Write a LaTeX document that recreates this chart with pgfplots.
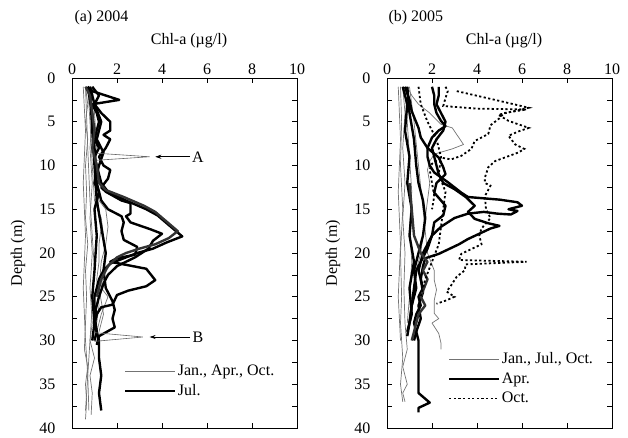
\documentclass[border=0pt]{standalone}
\usepackage{fontspec}
\setmainfont{Liberation Serif}
\usepackage{pgfplots}
\pgfplotsset{compat=1.18}
\usetikzlibrary{arrows.meta}

\tikzset{
  gline/.style={color=black!55, line width=0.7bp, line join=round},
  bline/.style={color=black, line width=2.4bp, line join=round},
  dline/.style={color=black, line width=1.8bp, dash pattern=on 2.2bp off 2.4bp},
  leader/.style={color=black!60, line width=0.6bp},
}

\pgfplotsset{
  profile axis/.style={
    scale only axis, width=225bp, height=350bp,
    xmin=0, xmax=10, ymin=0, ymax=40, y dir=reverse,
    xtick={0,2,...,10}, ytick={0,5,...,40},
    minor ytick={2.5,7.5,...,37.5},
    major tick length=5bp, minor tick length=5bp,
    tick style={black, line width=0.6bp},
    axis line style={line width=0.8bp},
    xticklabel pos=right,
    /pgf/number format/assume math mode=true,
    ticklabel style={font=\fontsize{16bp}{19bp}\selectfont},
    yticklabel style={xshift=-13bp},
    label style={font=\fontsize{16bp}{19bp}\selectfont},
    xlabel={Chl-a (µg/l)},
    xlabel style={at={(axis description cs:0.52,1.108)}, anchor=center},
    ylabel={Depth (m)},
    ylabel style={at={(axis description cs:-0.24,0.5)}, anchor=center},
    legend image code/.code={\draw[##1] (0bp,0bp) -- (50bp,0bp);},
    legend cell align=left,
    legend style={draw=none, fill=none, inner sep=0bp, row sep=4.5bp,
      font=\fontsize{16bp}{19bp}\selectfont,
      nodes={inner sep=1.5bp}},
  },
}

\begin{document}
\begin{tikzpicture}
\path[use as bounding box] (0bp,0bp) rectangle (628bp,-438bp);
\node[anchor=west, font=\fontsize{16bp}{19bp}\selectfont] at (71bp,-18bp) {(a) 2004};
\node[anchor=west, font=\fontsize{16bp}{19bp}\selectfont] at (385bp,-18bp) {(b) 2005};

% ---------------- 2004 ----------------
\begin{axis}[profile axis, at={(72bp,-78bp)}, anchor=north west,
  legend style={at={(axis cs:2.3,32.6)}, anchor=north west}]
% Jan., Apr., Oct.
\addplot[gline] coordinates {(0.6,1) (0.7,3) (0.6,5) (0.7,7) (0.6,10) (0.65,13) (0.6,16) (0.7,19) (0.6,22) (0.65,25) (0.6,28) (0.55,31) (0.7,33) (0.6,35) (0.65,37) (0.6,39)};
\addlegendentry{Jan., Apr., Oct.}
\addplot[gline, forget plot] coordinates {(0.8,1) (0.9,4) (0.8,8) (0.9,12) (0.8,16) (0.9,20) (0.8,24) (0.9,28) (0.8,30) (1.0,32) (0.8,34) (0.9,36) (0.85,38.5)};
\addplot[gline, forget plot] coordinates {(0.7,1) (0.8,5) (0.9,10) (1.0,14) (1.3,16) (1.4,18) (1.5,20) (1.4,22) (1.3,24) (1.6,25) (1.3,27) (1.1,29) (1.0,30)};
\addplot[gline, forget plot] coordinates {(0.7,1) (0.9,6) (1.0,10) (1.1,13) (1.2,15) (1.3,17) (1.2,19) (1.2,21) (1.1,23) (1.2,26) (1.1,28) (1.0,29.8)};
\addplot[gline, forget plot] coordinates {(0.6,1) (0.7,8) (0.8,14) (0.9,18) (1.0,22) (0.9,26) (0.8,30) (0.7,34) (0.75,38)};
\addplot[gline, forget plot] coordinates {(0.9,1) (1.0,4) (1.1,8) (1.0,12) (1.2,14) (1.5,15) (1.6,17) (1.5,19) (1.3,21) (1.2,24) (1.4,27) (1.2,29)};
\addplot[gline, forget plot] coordinates {(0.5,1) (0.6,6) (0.5,12) (0.6,18) (0.5,24) (0.6,30) (0.7,34) (0.6,38)};
% Jul.
\addplot[bline] coordinates {(0.7,1) (0.9,1.5) (2.1,2.5) (0.9,3) (1.1,4) (1.2,5) (1.1,6) (1.0,7) (1.2,8) (1.0,9) (1.1,10) (1.2,11) (1.3,12) (1.6,13) (2.4,14) (3.3,15) (3.8,15.7) (4.3,16.8) (4.9,18.1) (4.2,18.8) (3.6,19.5) (2.9,20) (2.2,20.7) (1.7,21.2) (1.4,22) (1.2,23) (1.1,24) (1.0,25) (1.0,26) (1.1,27) (1.0,28) (1.1,29) (1.2,30) (1.2,32) (1.3,34) (1.2,36) (1.3,38)};
\addlegendentry{Jul.}
\addplot[bline, forget plot] coordinates {(0.8,1) (1.0,3) (1.3,4) (1.7,5) (1.7,6) (1.4,6.5) (1.7,7) (1.5,8) (1.2,9) (1.4,10) (1.7,10.5) (1.6,11.5) (1.3,12.5) (1.5,13) (2.2,14) (2.6,14.3) (2.6,15.5) (2.4,15.8) (2.6,16.5) (3.5,17.3) (4.0,17.8) (3.6,18.6) (3.4,19.5) (2.8,20.5) (2.0,21.5) (1.6,22.5) (1.4,23.5) (1.2,25) (1.0,27) (1.1,29) (1.0,30)};
\addplot[bline, forget plot] coordinates {(0.7,1) (0.9,4) (1.0,8) (1.1,12) (1.3,14) (1.6,15) (2.2,15.8) (2.3,16.5) (2.2,17.5) (2.3,18.5) (2.9,19.3) (2.8,20.2) (2.0,20.6) (1.7,21) (2.5,21.4) (3.3,21.8) (3.7,23.1) (3.3,23.8) (2.5,24.3) (2.0,24.8) (1.8,25.9) (1.3,26.2) (1.1,27) (1.0,28)};
\addplot[bline, forget plot] coordinates {(0.8,1) (0.9,6) (1.0,10) (1.1,14) (1.3,17) (1.5,20) (1.4,22) (1.5,24) (1.8,25.5) (1.9,26.5) (1.8,27.5) (1.9,28.5) (1.2,29.5) (1.1,30.5)};
\addplot[bline, forget plot] coordinates {(0.9,1) (1.2,2) (1.0,3) (1.3,5) (1.1,7) (1.4,8.5) (1.2,10) (1.0,12) (1.2,13) (1.0,15) (1.1,18) (1.0,22) (0.9,25) (1.0,28) (0.9,30)};
\addplot[bline, color=black!80, forget plot] coordinates {(0.6,1) (0.8,2) (0.9,4) (1.0,6) (0.9,8) (1.1,10) (1.2,12) (1.5,12.8) (2.3,13.6) (3.2,14.6) (3.7,15.3) (4.2,16.4) (4.7,17.5) (4.3,18.3) (3.7,19) (3.0,19.5) (2.4,20) (2.0,20.5) (1.6,21.5) (1.3,23) (1.1,25)};
% leaders
\draw[leader] (axis cs:1.1,8.6) -- (axis cs:3.45,9.0) -- (axis cs:1.1,9.4);
\draw[-{Stealth[length=6bp,width=4bp]}, line width=0.6bp] (axis cs:5.25,9.0) -- (axis cs:3.7,9.0);
\node[font=\fontsize{16bp}{19bp}\selectfont] at (axis cs:5.6,9.0) {A};
\draw[leader] (axis cs:1.0,29.1) -- (axis cs:3.15,29.6) -- (axis cs:1.0,30.1);
\draw[-{Stealth[length=6bp,width=4bp]}, line width=0.6bp] (axis cs:5.25,29.6) -- (axis cs:3.45,29.6);
\node[font=\fontsize{16bp}{19bp}\selectfont] at (axis cs:5.6,29.6) {B};
\end{axis}

% ---------------- 2005 ----------------
\begin{axis}[profile axis, at={(387bp,-78bp)}, anchor=north west,
  legend style={at={(axis cs:2.7,31.2)}, anchor=north west}]
% Jan., Jul., Oct.
\addplot[gline] coordinates {(0.9,1) (1.1,2) (1.4,3) (1.9,4) (2.4,5.3) (2.9,5.7) (3.4,7.6) (2.9,8.1) (2.1,8.7) (1.9,9.5) (1.8,10.5) (1.9,12) (1.8,14) (1.7,16) (1.6,18) (1.5,20) (1.3,22) (1.2,25)};
\addlegendentry{Jan., Jul., Oct.}
\addplot[gline, forget plot] coordinates {(1.0,1) (1.2,5) (1.4,10) (1.6,15) (1.8,20) (2.1,22) (2.1,23.1) (2.2,24.2) (2.1,25.4) (2.1,26.9) (2.3,27.5) (2.0,28) (2.3,29.2) (2.4,30.3) (2.4,31)};
\addplot[gline, forget plot] coordinates {(0.6,1) (0.65,5) (0.6,10) (0.7,15) (0.6,20) (0.65,25) (0.6,28) (0.7,32) (0.6,35) (0.7,37)};
\addplot[gline, forget plot] coordinates {(0.7,1) (0.8,4) (0.7,8) (0.8,12) (0.7,16) (0.8,20) (0.75,24) (0.8,28) (0.9,31) (0.7,33) (0.9,35) (0.7,36) (0.8,37)};
\addplot[gline, forget plot] coordinates {(0.8,1) (0.9,5) (1.0,9) (1.1,13) (1.0,17) (1.1,21) (1.0,25) (0.9,28)};
\addplot[gline, forget plot] coordinates {(0.5,1) (0.6,7) (0.5,13) (0.6,19) (0.5,25) (0.6,30)};
% Apr.
\addplot[bline] coordinates {(2.0,1) (2.1,2) (2.1,3) (2.2,4) (2.4,4.9) (2.6,5.5) (2.3,6) (2.0,6.8) (1.8,8) (1.8,9) (1.9,10) (2.1,10.8) (2.7,11.9) (3.3,13.1) (3.6,13.6) (5.0,13.9) (5.8,14.2) (6.0,14.6) (5.4,15.0) (5.8,15.2) (5.5,15.6) (4.9,15.5) (4.3,15.3) (3.6,15.5) (3.0,16) (2.4,17) (2.0,18) (1.8,19) (1.6,20) (1.5,21) (1.4,22) (1.5,23) (1.6,24) (1.4,25) (1.5,26) (1.3,27) (1.2,28) (1.3,29) (1.2,30)};
\addlegendentry{Apr.}
\addplot[bline, forget plot] coordinates {(2.3,1) (2.3,2) (2.2,3) (2.4,4) (2.6,5) (2.5,6) (2.2,7) (2.0,8) (2.1,9) (2.2,10) (2.3,11) (2.5,12) (3.0,12.7) (3.5,13.6) (3.9,14.6) (3.6,15.3) (3.9,16.1) (4.5,16.6) (5.0,16.9) (4.6,17.2) (4.1,17.8) (3.6,18.4) (3.2,19) (2.3,20.1) (1.7,20.6) (1.6,21.5) (1.5,23) (1.6,24.5) (1.4,26) (1.5,27.5) (1.3,29) (1.4,30) (1.4,32) (1.4,34) (1.4,36) (1.9,37.1) (1.4,37.7) (1.4,38.2)};
\addplot[bline, forget plot] coordinates {(0.8,1) (1.0,2.5) (1.1,3.8) (1.4,5.7) (1.5,6.8) (1.8,8) (2.3,9.1) (2.5,10.2) (2.6,11) (2.2,12) (2.1,13.1) (2.6,14.6) (2.5,15.7) (2.1,16.5) (2.0,18) (1.8,19.5) (1.5,21) (1.3,22) (1.2,24) (1.1,26) (1.0,28) (0.9,29.5)};
\addplot[bline, forget plot] coordinates {(0.9,1) (1.0,4) (1.2,7) (1.3,10) (1.4,12) (1.6,14) (1.7,16) (1.6,18) (1.4,20) (1.2,22) (1.3,24) (1.1,26) (1.0,28)};
\addplot[bline, forget plot] coordinates {(0.7,1) (0.9,3) (0.8,6) (1.0,9) (0.9,12) (1.1,15) (1.0,18) (1.2,21) (1.0,24) (1.1,27) (0.9,29)};
\addplot[bline, color=black!80, forget plot] coordinates {(1.0,12) (1.1,15) (1.2,18) (1.5,20) (1.8,21) (1.6,22) (1.8,23) (1.5,25) (1.7,26) (1.4,27) (1.3,28) (1.1,30)};
% Oct.
\addplot[dline] coordinates {(3.1,1.5) (4.8,2.5) (6.3,3.4) (4.95,4.2) (5.4,4.9) (6.3,5.7) (5.85,6.1) (5.4,6.6) (5.7,7.6) (6.1,8.1) (5.85,8.5) (4.8,9.5) (4.5,10.2) (4.35,11.4) (4.35,12) (4.6,12.3) (4.35,13.5) (4.4,15) (4.6,16) (4.2,17.2) (4.1,18) (4.2,19) (3.3,20.1) (3.2,20.8) (6.2,21.0) (3.5,21.3) (3.45,22) (3.1,22.7) (2.85,23.7) (2.65,24.4) (3.0,25.0) (2.65,25.4) (2.2,25.8)};
\addlegendentry{Oct.}
\addplot[dline, forget plot] coordinates {(2.6,1) (2.7,1.5) (2.6,2.3) (2.5,3.2) (4.0,3.5) (6.2,3.6) (5.2,4.0) (5.0,4.6) (4.6,5.4) (4.5,6.4) (3.9,7.2) (3.75,8.1) (3.3,8.9) (2.85,9.3) (2.4,9.1) (2.0,9.8) (1.9,10.5) (2.0,12) (2.1,13.5) (2.0,15)};
\addplot[dline, forget plot] coordinates {(1.4,1) (1.5,3) (1.8,5) (2.2,7) (2.4,9) (2.3,11) (2.6,13) (2.5,15) (2.4,17) (2.3,19) (2.0,21) (1.7,23) (1.5,25)};
\end{axis}
\end{tikzpicture}
\end{document}
